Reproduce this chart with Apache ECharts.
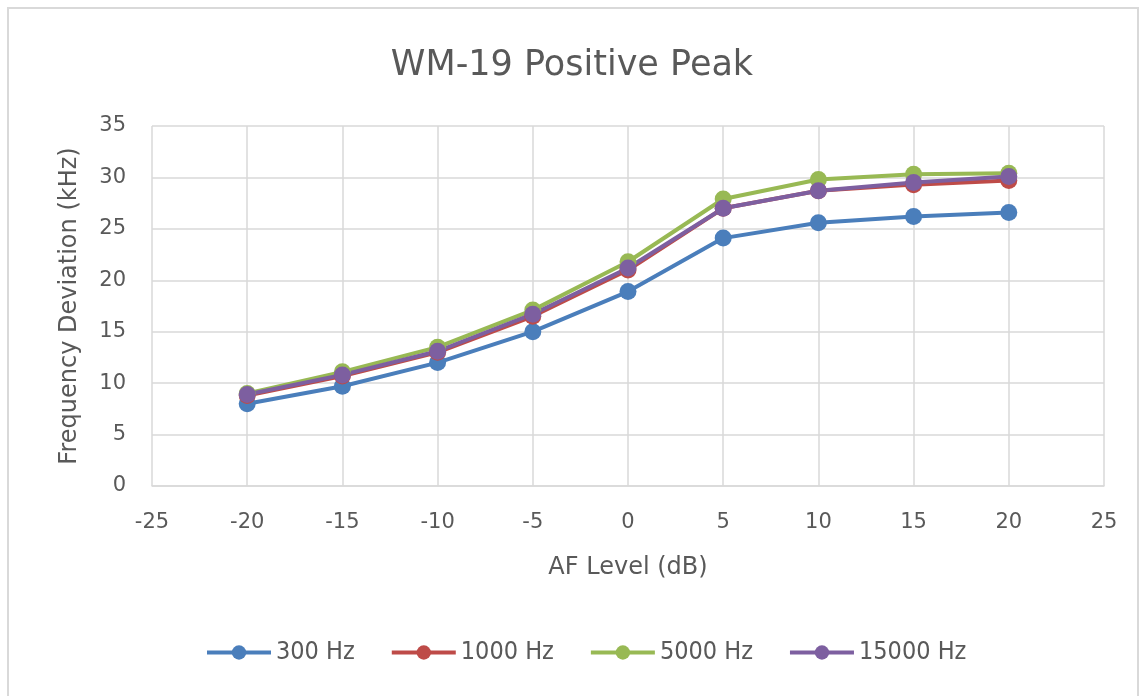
<!DOCTYPE html>
<html>
<head>
<meta charset="utf-8">
<script src="https://cdn.jsdelivr.net/npm/echarts@6/dist/echarts.min.js"></script>
<style>
    html, body { margin: 0; padding: 0; background: #fff; }
    #frame {
        position: absolute; left: 7px; top: 7px;
        width: 1128px; height: 700px;
        border: 2px solid #d9d9d9;
    }
    #chart_main { position: absolute; left: 0; top: 0; width: 1144px; height: 696px; }
</style>
</head>
<body>
<div id="frame"></div>
<div id="chart_main"></div>
<script>
// AF level (dB)
var levels = [-20, -15, -10, -5, 0, 5, 10, 15, 20];

// 频偏 (kHz)
var dev300 = [8.0, 9.7, 12.0, 15.0, 18.9, 24.1, 25.6, 26.2, 26.6];
var dev1000 = [8.8, 10.7, 13.0, 16.5, 21.0, 27.0, 28.7, 29.3, 29.7];
var dev5000 = [9.0, 11.1, 13.5, 17.1, 21.8, 27.9, 29.8, 30.3, 30.4];
var dev15000 = [8.9, 10.8, 13.1, 16.7, 21.2, 27.0, 28.7, 29.5, 30.1];

var names = ['300 Hz', '1000 Hz', '5000 Hz', '15000 Hz'];
var colors = ['#4a7ebb', '#be4b48', '#98b954', '#7d5fa0'];

var chart = echarts.init(document.getElementById('chart_main'));

var pairs = function (ys) {
    return levels.map(function (x, i) {
        return [x, ys[i]];
    });
};

var mkSeries = function (name, ys, color) {
    return {
        name: name,
        type: 'line',
        data: pairs(ys),
        symbol: 'circle',
        symbolSize: 17,
        lineStyle: { width: 4, color: color },
        itemStyle: { color: color },
        emphasis: { disabled: true }
    };
};

var font = 'DejaVu Sans';
var axisText = { color: '#595959', fontSize: 21, fontFamily: font };
var nameText = { color: '#595959', fontSize: 24, fontFamily: font };

var option = {
    animation: false,
    color: colors,
    title: {
        text: 'WM-19 Positive Peak',
        left: 'center',
        top: 43,
        textStyle: { color: '#595959', fontSize: 35, fontWeight: 'normal', fontFamily: font }
    },
    grid: { left: 152, right: 40, top: 126, bottom: 210 },
    legend: {
        bottom: 26,
        left: 200,
        itemWidth: 64,
        itemHeight: 18,
        itemGap: 35,
        lineStyle: { width: 4 },
        textStyle: { color: '#595959', fontSize: 25, fontFamily: 'DejaVu Sans Condensed' },
        data: names
    },
    xAxis: {
        type: 'value',
        min: -25,
        max: 25,
        interval: 5,
        name: 'AF Level (dB)',
        nameLocation: 'middle',
        nameGap: 70,
        nameTextStyle: nameText,
        axisLine: { show: true, onZero: false, lineStyle: { color: '#d9d9d9', width: 1.5 } },
        axisTick: { show: false },
        axisLabel: Object.assign({ margin: 26 }, axisText),
        splitLine: { show: true, lineStyle: { color: '#d9d9d9', width: 1.5 } }
    },
    yAxis: {
        type: 'value',
        min: 0,
        max: 35,
        interval: 5,
        name: 'Frequency Deviation (kHz)',
        nameLocation: 'middle',
        nameGap: 70,
        nameTextStyle: nameText,
        axisLine: { show: false },
        axisTick: { show: false },
        axisLabel: Object.assign({ margin: 26 }, axisText),
        splitLine: { show: true, lineStyle: { color: '#d9d9d9', width: 1.5 } }
    },
    series: [
        mkSeries(names[0], dev300, colors[0]),
        mkSeries(names[1], dev1000, colors[1]),
        mkSeries(names[2], dev5000, colors[2]),
        mkSeries(names[3], dev15000, colors[3])
    ]
};

chart.setOption(option);
</script>
</body>
</html>
